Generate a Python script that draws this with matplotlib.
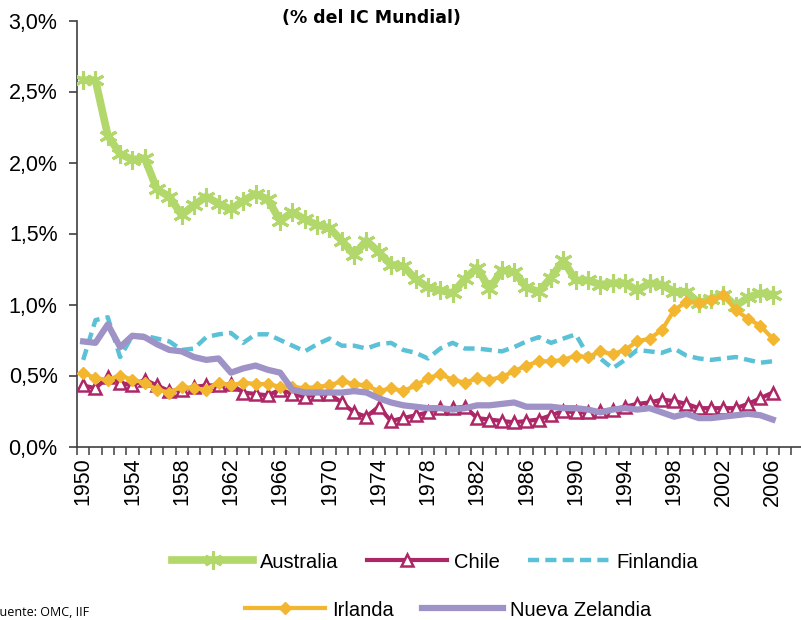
import matplotlib
matplotlib.use("Agg")
import matplotlib.pyplot as plt
from matplotlib.ticker import FixedLocator, FuncFormatter

years = list(range(1950, 2007))

australia = [2.58, 2.58, 2.19, 2.06, 2.02, 2.03, 1.81, 1.76, 1.63, 1.70,
             1.76, 1.71, 1.67, 1.73, 1.78, 1.74, 1.59, 1.65, 1.60, 1.56,
             1.54, 1.45, 1.35, 1.45, 1.37, 1.28, 1.27, 1.18, 1.12, 1.10,
             1.08, 1.18, 1.26, 1.11, 1.24, 1.23, 1.12, 1.09, 1.19, 1.31,
             1.17, 1.17, 1.14, 1.15, 1.15, 1.10, 1.15, 1.14, 1.09, 1.09,
             1.01, 1.04, 1.07, 0.99, 1.05, 1.08, 1.07]

chile = [0.43, 0.41, 0.49, 0.45, 0.43, 0.47, 0.43, 0.39, 0.40, 0.42,
         0.43, 0.43, 0.44, 0.38, 0.37, 0.36, 0.40, 0.37, 0.35, 0.37,
         0.37, 0.31, 0.24, 0.21, 0.28, 0.18, 0.20, 0.22, 0.24, 0.27,
         0.27, 0.28, 0.20, 0.19, 0.18, 0.17, 0.18, 0.19, 0.22, 0.25,
         0.24, 0.24, 0.25, 0.26, 0.28, 0.30, 0.31, 0.33, 0.32, 0.30,
         0.27, 0.27, 0.27, 0.27, 0.30, 0.34, 0.38]

finlandia = [0.61, 0.89, 0.91, 0.63, 0.78, 0.78, 0.76, 0.74, 0.68, 0.69,
             0.77, 0.79, 0.80, 0.73, 0.79, 0.79, 0.75, 0.71, 0.67, 0.72,
             0.76, 0.71, 0.71, 0.69, 0.72, 0.73, 0.68, 0.66, 0.62, 0.69,
             0.73, 0.69, 0.69, 0.68, 0.67, 0.70, 0.74, 0.77, 0.73, 0.76,
             0.79, 0.64, 0.62, 0.55, 0.61, 0.68, 0.67, 0.66, 0.69, 0.64,
             0.62, 0.61, 0.62, 0.63, 0.61, 0.59, 0.60]

irlanda = [0.52, 0.48, 0.47, 0.50, 0.47, 0.45, 0.40, 0.38, 0.42, 0.41,
           0.40, 0.45, 0.43, 0.45, 0.44, 0.44, 0.42, 0.42, 0.41, 0.42,
           0.43, 0.46, 0.44, 0.43, 0.39, 0.41, 0.39, 0.43, 0.48, 0.51,
           0.47, 0.45, 0.48, 0.47, 0.49, 0.53, 0.57, 0.60, 0.60, 0.61,
           0.64, 0.63, 0.67, 0.65, 0.68, 0.74, 0.76, 0.82, 0.96, 1.02,
           1.01, 1.03, 1.07, 0.96, 0.90, 0.85, 0.76]

nueva_zelandia = [0.74, 0.73, 0.86, 0.70, 0.78, 0.77, 0.72, 0.68, 0.67, 0.63,
                  0.61, 0.62, 0.52, 0.55, 0.57, 0.54, 0.52, 0.40, 0.38, 0.38,
                  0.38, 0.38, 0.39, 0.38, 0.34, 0.31, 0.29, 0.28, 0.27, 0.27,
                  0.26, 0.27, 0.29, 0.29, 0.30, 0.31, 0.28, 0.28, 0.28, 0.27,
                  0.27, 0.26, 0.24, 0.26, 0.27, 0.26, 0.27, 0.24, 0.21, 0.23,
                  0.20, 0.20, 0.21, 0.22, 0.23, 0.22, 0.19]

label_years = list(range(1950, 2007, 4))
y_ticks = [0.0, 0.5, 1.0, 1.5, 2.0, 2.5, 3.0]

c_aus = "#b2d76a"
c_chi = "#ad2766"
c_fin = "#5bc1d6"
c_irl = "#f2b630"
c_nz = "#9e92c6"

plt.rcParams['font.family'] = ['Liberation Sans', 'DejaVu Sans']

fig = plt.figure(figsize=(8.01, 6.20), dpi=100)
ax = fig.add_axes([77 / 801, 1 - 446.5 / 620, 724 / 801, 426 / 620])

ax.plot(years, australia, color=c_aus, lw=5.5, marker=(6, 2, 0), ms=13,
        mew=2.2, mec=c_aus, label="Australia", zorder=3)
ax.plot(years, chile, color=c_chi, lw=3, marker="^", ms=8, mfc="white",
        mec=c_chi, mew=1.8, label="Chile", zorder=4)
ax.plot(years, finlandia, color=c_fin, lw=3.2, dashes=(2.5, 1.4),
        dash_capstyle="butt", label="Finlandia", zorder=5)
ax.plot(years, irlanda, color=c_irl, lw=3, marker="D", ms=6.5, mfc=c_irl,
        mec=c_irl, label="Irlanda", zorder=6)
ax.plot(years, nueva_zelandia, color=c_nz, lw=4.5, label="Nueva Zelandia",
        zorder=7)

ax.set_xlim(1949.5, 2008.3)
ax.set_ylim(0, 3.0)

for s in ["top", "right"]:
    ax.spines[s].set_visible(False)
for s in ["left", "bottom"]:
    ax.spines[s].set_color("#404040")
    ax.spines[s].set_linewidth(1.2)

ax.yaxis.set_major_locator(FixedLocator(y_ticks))
ax.yaxis.set_major_formatter(FuncFormatter(lambda v, p: f"{v:.1f}%".replace(".", ",")))
ax.tick_params(axis="y", direction="out", length=6, width=1.2, color="#404040",
               labelsize=15.5, pad=8)

ax.xaxis.set_major_locator(FixedLocator(label_years))
ax.set_xticklabels([str(y) for y in label_years], rotation=90)
ax.xaxis.set_minor_locator(FixedLocator([y - 0.5 for y in range(1950, 2009)]))
ax.tick_params(axis="x", which="major", length=0, labelsize=15.5, pad=8)
ax.tick_params(axis="x", which="minor", direction="out", length=6, width=1.1,
               color="#404040")

fig.text(371 / 801, 1 - 18 / 620, "(% del IC Mundial)", ha="center", va="center",
         fontsize=12.5, fontweight="bold", family=["DejaVu Sans"])

h = {l.get_label(): l for l in ax.get_lines()}
leg1 = fig.legend([h["Australia"], h["Chile"], h["Finlandia"]],
                  ["Australia", "Chile", "Finlandia"], ncol=3, loc="center",
                  bbox_to_anchor=(435 / 801, 1 - 562 / 620), frameon=False,
                  fontsize=14.5, handlelength=4.0, handletextpad=0.35,
                  columnspacing=1.4, numpoints=1)
leg2 = fig.legend([h["Irlanda"], h["Nueva Zelandia"]],
                  ["Irlanda", "Nueva Zelandia"], ncol=2, loc="center",
                  bbox_to_anchor=(448 / 801, 1 - 610 / 620), frameon=False,
                  fontsize=14.5, handlelength=4.0, handletextpad=0.35,
                  columnspacing=1.4, numpoints=1)

fig.text(-7 / 801, 1 - 606 / 620, "Fuente: OMC, IIF", ha="left", va="top",
         fontsize=9, family=["Open Sans", "DejaVu Sans"])

fig.savefig("out.png", dpi=100)
